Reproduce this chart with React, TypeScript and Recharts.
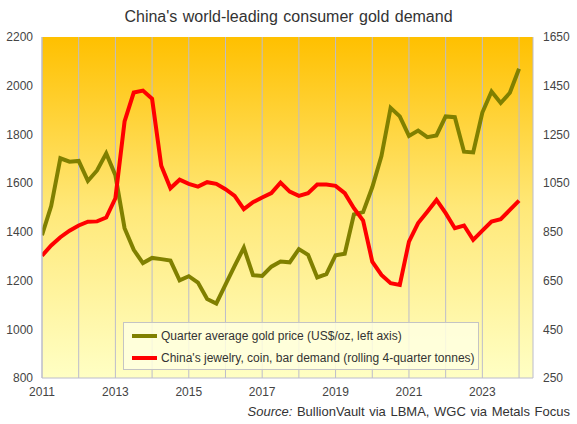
import React from "react"
import {
  CartesianGrid,
  Line,
  LineChart,
  XAxis,
  YAxis,
} from "recharts"

// quarters 2011 Q1 .. 2024 Q1
const quarters = [
  "2011Q1", "2011Q2", "2011Q3", "2011Q4",
  "2012Q1", "2012Q2", "2012Q3", "2012Q4",
  "2013Q1", "2013Q2", "2013Q3", "2013Q4",
  "2014Q1", "2014Q2", "2014Q3", "2014Q4",
  "2015Q1", "2015Q2", "2015Q3", "2015Q4",
  "2016Q1", "2016Q2", "2016Q3", "2016Q4",
  "2017Q1", "2017Q2", "2017Q3", "2017Q4",
  "2018Q1", "2018Q2", "2018Q3", "2018Q4",
  "2019Q1", "2019Q2", "2019Q3", "2019Q4",
  "2020Q1", "2020Q2", "2020Q3", "2020Q4",
  "2021Q1", "2021Q2", "2021Q3", "2021Q4",
  "2022Q1", "2022Q2", "2022Q3", "2022Q4",
  "2023Q1", "2023Q2", "2023Q3", "2023Q4",
  "2024Q1",
]

// US$/oz, quarter average
const goldPrice = [
  1386, 1506, 1702, 1688,
  1691, 1609, 1652, 1722,
  1632, 1415, 1326, 1272,
  1293, 1288, 1282, 1201,
  1218, 1192, 1124, 1106,
  1183, 1260, 1335, 1222,
  1219, 1257, 1278, 1275,
  1329, 1306, 1213, 1226,
  1304, 1310, 1472, 1481,
  1583, 1711, 1909, 1874,
  1794, 1816, 1789, 1796,
  1874, 1871, 1729, 1726,
  1890, 1976, 1929, 1971,
  2070,
]

// tonnes, rolling 4 quarters
const chinaDemand = [
  752, 794, 828, 855,
  876, 892, 893, 909,
  988, 1303, 1422, 1430,
  1396, 1121, 1029, 1064,
  1047, 1036, 1054, 1047,
  1025, 998, 943, 972,
  991, 1009, 1052, 1015,
  998, 1009, 1044, 1044,
  1039, 1009, 947, 896,
  728, 673, 639, 632,
  810, 886, 933, 981,
  927, 865, 876, 817,
  855, 892, 902, 940,
  978,
]

const yearTicks = [2011, 2012, 2013, 2014, 2015, 2016, 2017, 2018, 2019, 2020, 2021, 2022, 2023, 2024]
const leftTicks = [800, 1000, 1200, 1400, 1600, 1800, 2000, 2200]
const rightTicks = [250, 450, 650, 850, 1050, 1250, 1450, 1650]

const series = [
  { key: "gold", name: "Quarter average gold price (US$/oz, left axis)", color: "#808000", axis: "left" },
  { key: "china", name: "China's jewelry, coin, bar demand (rolling 4-quarter tonnes)", color: "#ff0000", axis: "right" },
]

const data = quarters.map((q, i) => ({
  t: Number(q.slice(0, 4)) + (Number(q.slice(5)) - 1) / 4,
  gold: goldPrice[i],
  china: chinaDemand[i],
}))

const font = "'Liberation Sans', Arial, sans-serif"
const tickStyle = { fontSize: 12, fill: "#444", fontFamily: font }

export default function App() {
  return (
    <div style={{ position: "absolute", left: 0, top: 0, width: 577, height: 424, background: "#fff" }}>
      <div
        style={{
          position: "absolute",
          top: 8,
          left: 0,
          width: 577,
          textAlign: "center",
          fontFamily: font,
          fontSize: 16,
          color: "#333",
          wordSpacing: 1,
        }}
      >
        China's world-leading consumer gold demand
      </div>
      <LineChart
        width={577}
        height={424}
        data={data}
        margin={{ top: 37, right: 0, bottom: 0, left: 8 }}
      >
        <defs>
          <linearGradient id="plotBg" x1="0" y1="0" x2="0" y2="1">
            <stop offset="0%" stopColor="#ffc000" />
            <stop offset="50%" stopColor="#ffe878" />
            <stop offset="100%" stopColor="#ffffc4" />
          </linearGradient>
        </defs>
        <CartesianGrid
          stroke="#bcbccc"
          fill="url(#plotBg)"
          fillOpacity={1}
          verticalValues={yearTicks}
          horizontalValues={leftTicks}
        />
        <XAxis
          dataKey="t"
          type="number"
          domain={[2011, 2024.38]}
          ticks={yearTicks}
          allowDataOverflow
          height={46}
          tick={tickStyle}
          tickLine={false}
          tickSize={6}
          tickMargin={3}
          axisLine={{ stroke: "#bcbccc" }}
          tickFormatter={(v) => (v % 2 === 1 ? String(v) : "")}
        />
        <YAxis
          yAxisId="left"
          domain={[800, 2200]}
          ticks={leftTicks}
          width={34}
          tick={tickStyle}
          tickLine={false}
          tickSize={6}
          tickMargin={3}
          axisLine={{ stroke: "#bcbccc" }}
        />
        <YAxis
          yAxisId="right"
          orientation="right"
          domain={[250, 1650]}
          ticks={rightTicks}
          width={44}
          tick={{ ...tickStyle, textAnchor: "start" }}
          tickLine={false}
          tickSize={6}
          tickMargin={4}
          axisLine={{ stroke: "#bcbccc" }}
        />
        {series.map((s) => (
          <Line
            key={s.key}
            yAxisId={s.axis}
            dataKey={s.key}
            name={s.name}
            stroke={s.color}
            strokeWidth={4}
            dot={false}
            activeDot={false}
            isAnimationActive={false}
          />
        ))}
      </LineChart>
      <div
        style={{
          position: "absolute",
          left: 123,
          top: 322,
          width: 356,
          height: 48,
          boxSizing: "border-box",
          border: "1px solid #c4c4c4",
          background: "rgba(255,255,225,0.85)",
          fontFamily: font,
          fontSize: 12,
          color: "#333",
          paddingTop: 2,
          paddingLeft: 8,
          whiteSpace: "nowrap",
        }}
      >
        {series.map((s) => (
          <div key={s.key} style={{ display: "flex", alignItems: "center", height: 22 }}>
            <span style={{ display: "inline-block", width: 25, height: 4, background: s.color, marginRight: 4 }} />
            <span>{s.name}</span>
          </div>
        ))}
      </div>
      <div
        style={{
          position: "absolute",
          right: 7,
          top: 404,
          fontFamily: font,
          fontSize: 13,
          color: "#333",
          wordSpacing: 1,
          whiteSpace: "nowrap",
        }}
      >
        <i>Source:</i> BullionVault via LBMA, WGC via Metals Focus
      </div>
    </div>
  )
}
